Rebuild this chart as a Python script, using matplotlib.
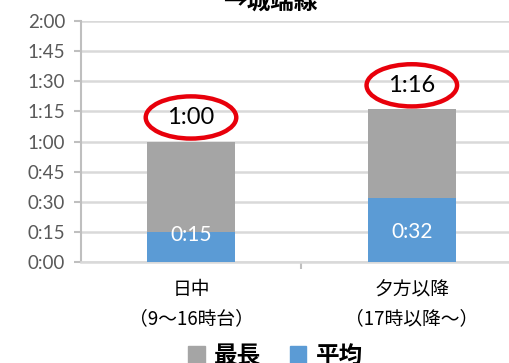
import matplotlib
matplotlib.use("Agg")
import matplotlib.pyplot as plt
from matplotlib.patches import Ellipse, Patch

plt.rcParams['font.family'] = ['Lato', 'Noto Sans CJK JP', 'DejaVu Sans']

# minutes
categories = ["日中\n（9～16時台）", "夕方以降\n（17時以降～）"]
longest = [60, 76]
average = [15, 32]
series_names = ["最長", "平均"]
title = "→城端線"

gray = "#A5A5A5"
blue = "#5B9BD5"
grid_c = "#D9D9D9"


def hm(m):
    return "%d:%02d" % (m // 60, m % 60)


fig = plt.figure(figsize=(5.1, 3.63), dpi=100)
ax = fig.add_axes([0.158, 0.278, 0.866, 0.664])

x = list(range(len(categories)))
ax.bar(x, longest, width=0.4, color=gray, zorder=2)
ax.bar(x, average, width=0.4, color=blue, zorder=3)

ax.set_xlim(-0.5, 1.5)
ax.set_ylim(0, 120)
ax.set_yticks(range(0, 121, 15))
ax.set_yticklabels([hm(v) for v in range(0, 121, 15)])
ax.tick_params(axis='y', colors="#BFBFBF", labelcolor="#595959",
               labelsize=13.5, length=5, width=1.5, pad=6)
ax.grid(axis='y', color=grid_c, lw=1.8, zorder=0)

ax.set_xticks(x)
ax.set_xticklabels(categories, fontsize=13.5, linespacing=1.55,
                   family=['Noto Sans CJK JP'])
ax.set_xticks([0.5], minor=True)
ax.tick_params(axis='x', which='major', length=0, pad=12)
ax.tick_params(axis='x', which='minor', length=5, width=1.5, colors="#BFBFBF")

for s in ['top', 'right']:
    ax.spines[s].set_visible(False)
ax.spines['left'].set_color("#BFBFBF")
ax.spines['left'].set_linewidth(1.5)
ax.spines['bottom'].set_color(grid_c)
ax.spines['bottom'].set_linewidth(1.8)

# value labels
for i in x:
    ax.text(i, longest[i] + 12, hm(longest[i]), ha='center', va='center',
            fontsize=17, color='black', zorder=5)
    ax.add_patch(Ellipse((i, longest[i] + 12), 0.41, 21, fill=False,
                         ec='#E8000B', lw=3.2, zorder=6))
    ax.text(i, min(average[i] - 1.6, 15), hm(average[i]),
            ha='center', va='center', fontsize=15, color='white', zorder=5)

fig.text(270 / 510, 0.995, title, ha='center', va='center',
         fontsize=17, fontweight='bold', family=['Noto Sans CJK JP'])

handles = [Patch(color=gray), Patch(color=blue)]
fig.legend(handles, series_names, loc='center', bbox_to_anchor=(0.54, 0.02),
           ncol=2, frameon=False, handlelength=0.7, handleheight=0.7,
           handletextpad=0.4, columnspacing=1.2,
           prop={'family': 'Noto Sans CJK JP', 'size': 17, 'weight': 'bold'})

fig.savefig("out.png", dpi=100)
